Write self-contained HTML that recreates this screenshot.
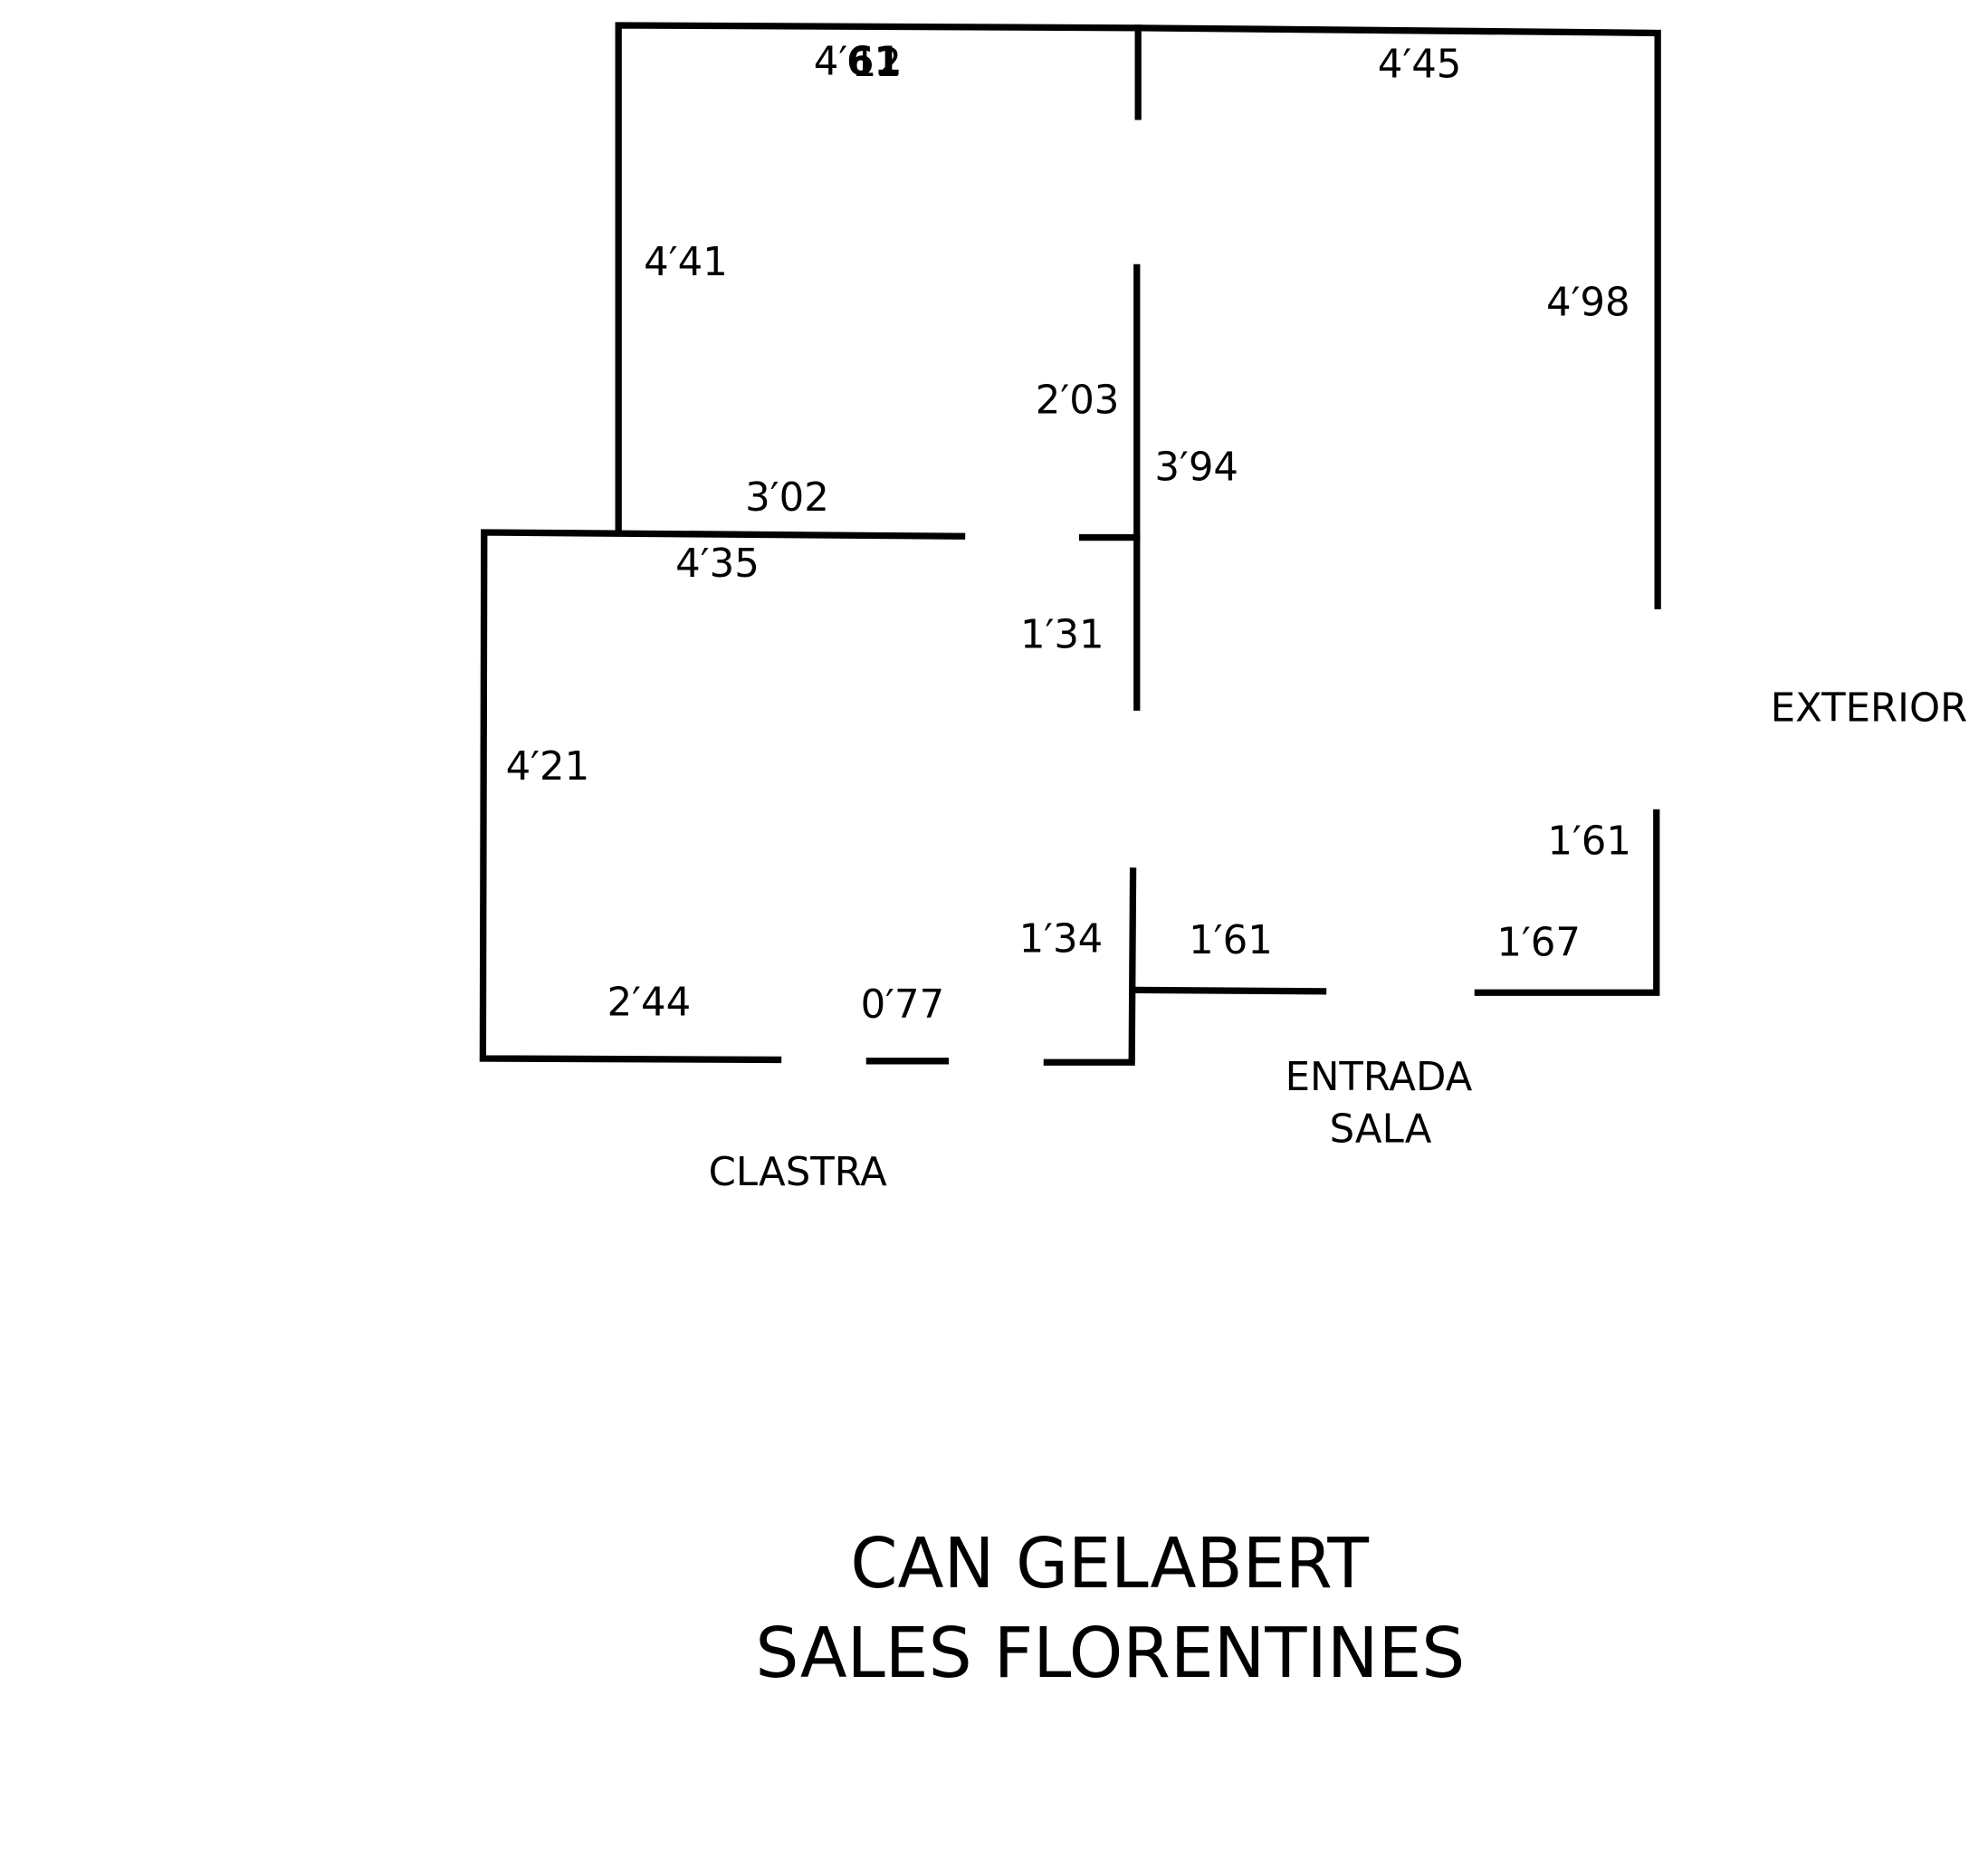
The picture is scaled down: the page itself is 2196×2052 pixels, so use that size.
<!DOCTYPE html>
<html><head><meta charset="utf-8"><style>
html,body{margin:0;padding:0;background:#fff;}
svg{display:block;}
text{font-family:"DejaVu Sans","Liberation Sans",sans-serif;fill:#000;}
</style></head><body>
<svg width="2196" height="2052" viewBox="0 0 1568.6 1465.7" xmlns="http://www.w3.org/2000/svg">
<g stroke="#000" stroke-width="5.2" fill="none" stroke-linecap="square">
<polyline points="488,420 488,20 898,22 1308,26 1308,478"/>
<line x1="898" y1="22" x2="898" y2="92"/>
<line x1="897" y1="211" x2="897" y2="558"/>
<line x1="854" y1="424" x2="897" y2="424"/>
<polyline points="759,423 382,420 381,835 614,836"/>
<line x1="686" y1="837" x2="746" y2="837"/>
<polyline points="826,838 893,838 894,687"/>
<line x1="895" y1="781" x2="1044" y2="782"/>
<polyline points="1166,783 1307,783 1307,641"/>
</g>
<g font-size="31">
<text x="642" y="59">4′</text>
<text x="668" y="59" font-weight="bold">61</text>
<text x="672" y="60">12</text>
<text x="1087" y="61">4′45</text>
<text x="508" y="217">4′41</text>
<text x="1220" y="249">4′98</text>
<text x="817" y="326">2′03</text>
<text x="911" y="379">3′94</text>
<text x="588" y="403">3′02</text>
<text x="533" y="455">4′35</text>
<text x="805" y="511">1′31</text>
<text x="1397" y="569">EXTERIOR</text>
<text x="399" y="615">4′21</text>
<text x="1221" y="674">1′61</text>
<text x="804" y="751">1′34</text>
<text x="938" y="752">1′61</text>
<text x="1181" y="754">1′67</text>
<text x="479" y="801">2′44</text>
<text x="679" y="803">0′77</text>
<text x="1014" y="860">ENTRADA</text>
<text x="1049" y="901">SALA</text>
<text x="559" y="935">CLASTRA</text>
</g>
<g font-size="55">
<text x="671" y="1252" textLength="409" lengthAdjust="spacingAndGlyphs">CAN GELABERT</text>
<text x="596" y="1323" textLength="560" lengthAdjust="spacingAndGlyphs">SALES FLORENTINES</text>
</g>
</svg>
</body></html>
